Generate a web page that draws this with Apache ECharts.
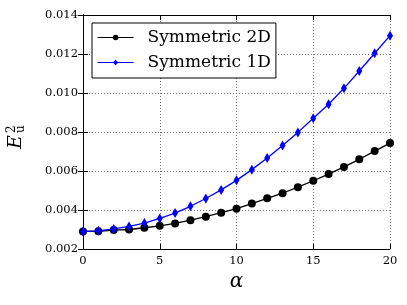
<!DOCTYPE html>
<html><head><meta charset="utf-8">
<script src="https://cdn.jsdelivr.net/npm/echarts@6/dist/echarts.min.js"></script>
<style>html,body{margin:0;padding:0;background:#fff}#c{width:407px;height:305px}</style>
</head><body><div id="c"></div>
<script>
const alpha = [0,1,2,3,4,5,6,7,8,9,10,11,12,13,14,15,16,17,18,19,20];
const sym2D = [0.00290,0.00291,0.00297,0.00300,0.00309,0.00319,0.00331,0.00348,0.00366,0.00386,0.00407,0.00433,0.00460,0.00486,0.00517,0.00550,0.00584,0.00621,0.00660,0.00702,0.00743];
const sym1D = [0.00290,0.00293,0.00303,0.00316,0.00333,0.00357,0.00384,0.00419,0.00459,0.00503,0.00552,0.00607,0.00667,0.00731,0.00798,0.00870,0.00942,0.01024,0.01113,0.01204,0.01294];
const seriesNames = ['Symmetric 2D','Symmetric 1D'];
const xTicks = [0,5,10,15,20];
const yTicks = [0.002,0.004,0.006,0.008,0.010,0.012,0.014];

const serif = 'DejaVu Serif';
const chart = echarts.init(document.getElementById('c'), null, {renderer:'canvas'});
const axisCommon = {
  axisLine:{show:true,lineStyle:{color:'#000',width:1}},
  axisTick:{show:true,inside:true,length:5,lineStyle:{color:'#000'}},
};
chart.setOption({
  animation:false,
  backgroundColor:'#fff',
  grid:{left:83,right:17,top:15,bottom:56,containLabel:false},
  legend:{
    left:92, top:23, orient:'vertical',
    data:seriesNames,
    backgroundColor:'#fff', borderColor:'#000', borderWidth:1,
    padding:[6,5,7,5], itemWidth:36, itemHeight:7, itemGap:8,
    lineStyle:{width:1.2},
    textStyle:{fontFamily:serif,fontSize:17,color:'#000',padding:[0,0,0,9]}
  },
  xAxis:[{
    type:'value', min:xTicks[0], max:xTicks[xTicks.length-1], interval:5,
    ...axisCommon,
    axisLabel:{fontFamily:serif,fontSize:11.5,color:'#000',margin:6},
    splitLine:{show:true,lineStyle:{type:[1,2],color:'#777',width:1}},
    name:'α', nameLocation:'middle', nameGap:22,
    nameTextStyle:{fontFamily:serif,fontStyle:'italic',fontSize:20,color:'#000'}
  },{
    type:'value', position:'top', min:0, max:20, interval:5,
    ...axisCommon, axisLabel:{show:false}, splitLine:{show:false}
  }],
  yAxis:[{
    type:'value', min:yTicks[0], max:yTicks[yTicks.length-1], interval:0.002,
    ...axisCommon,
    axisLabel:{fontFamily:serif,fontSize:11.5,color:'#000',margin:5,formatter:v=>v.toFixed(3)},
    splitLine:{show:true,lineStyle:{type:[1,2],color:'#777',width:1}}
  },{
    type:'value', position:'right', min:0.002, max:0.014, interval:0.002,
    ...axisCommon, axisLabel:{show:false}, splitLine:{show:false}
  }],
  graphic:[{
    type:'group', x:26, y:149, rotation:Math.PI/2,
    children:[
      {type:'text', x:0, y:0, style:{text:'E', font:'italic 19px "DejaVu Serif"', fill:'#000', textAlign:'left', textVerticalAlign:'bottom'}},
      {type:'text', x:16, y:-8, style:{text:'2', font:'12px "DejaVu Serif"', fill:'#000', textAlign:'left', textVerticalAlign:'bottom'}},
      {type:'text', x:16, y:1, style:{text:'u', font:'12px "DejaVu Serif"', fill:'#000', textAlign:'left', textVerticalAlign:'bottom'}}
    ]
  }],
  series:[{
    name:seriesNames[0], type:'line', data:alpha.map((a,i)=>[a,sym2D[i]]),
    symbol:'circle', symbolSize:8, showAllSymbol:true,
    lineStyle:{color:'#000',width:1.3}, itemStyle:{color:'#000'}, z:2
  },{
    name:seriesNames[1], type:'line', data:alpha.map((a,i)=>[a,sym1D[i]]),
    symbol:'path://M0,-5 L3,0 L0,5 L-3,0 Z', symbolSize:[6,10], showAllSymbol:true,
    lineStyle:{color:'#0000ff',width:1.3}, itemStyle:{color:'#0000ff'}, z:3
  }]
});
</script></body></html>
